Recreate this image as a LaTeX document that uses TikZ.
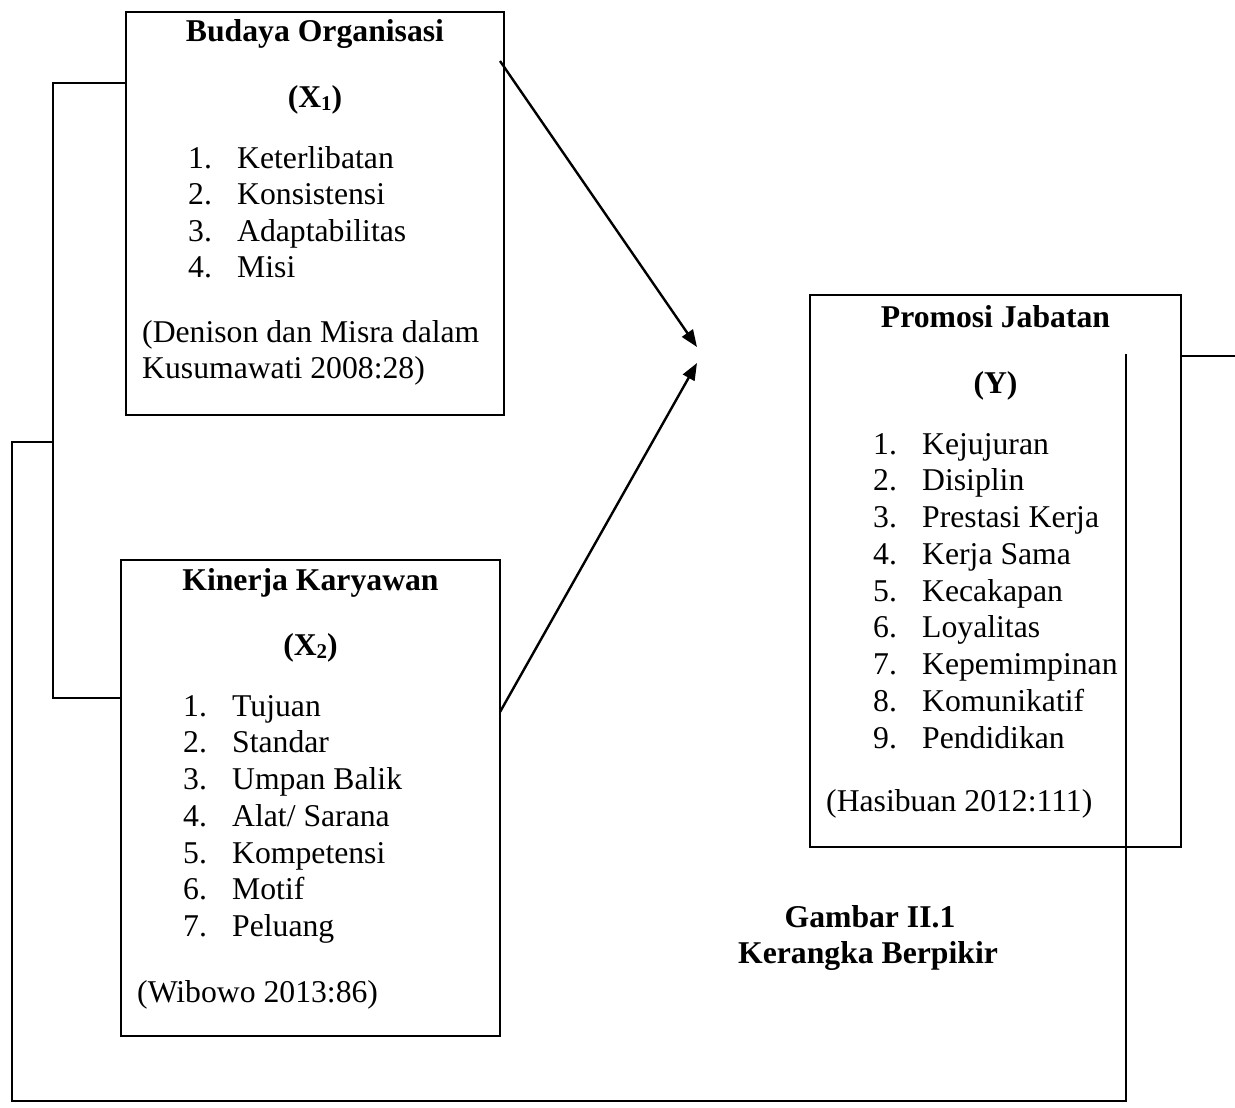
\documentclass[tikz,border=0pt]{standalone}
\usepackage{fontspec}
\setmainfont{Liberation Serif}
\usetikzlibrary{arrows.meta}
\newcommand{\lowsub}[1]{\raisebox{-3pt}{\fontsize{21}{21}\selectfont #1}}
\begin{document}
\begin{tikzpicture}[x=1pt,y=-1pt,
  box/.style={draw,line width=2.2pt,inner sep=0pt},
  conn/.style={line width=2pt},
  arr/.style={line width=2.4pt,-{Triangle[length=17pt,width=13pt]}},
  txt/.style={inner sep=0pt,anchor=base west,font=\fontsize{31.7}{36.7}\selectfont},
  ttl/.style={inner sep=0pt,anchor=base,font=\fontsize{31.7}{36.7}\selectfont\bfseries}]
\useasboundingbox (0,0) rectangle (1235,1108);

% boxes
\node[box,minimum width=378pt,minimum height=403pt] (b1) at (315,213.5) {};
\node[box,minimum width=379pt,minimum height=476pt] (b2) at (310.5,798) {};
\node[box,minimum width=371pt,minimum height=552pt] (b3) at (995.5,571) {};

% box 1 text
\node[ttl] (b1t) at (315,42) {Budaya Organisasi};
\node[ttl] (b1x) at (315,107) {(X\lowsub{1})};
\foreach \t [count=\i] in {Keterlibatan,Konsistensi,Adaptabilitas,Misi}
  \node[txt] (b1i\i) at (188,{168+36.6*(\i-1)}) {\makebox[49pt][l]{\i.}\t};
\node[txt] (b1s1) at (142,342) {(Denison dan Misra dalam};
\node[txt] (b1s2) at (142,378) {Kusumawati 2008:28)};

% box 2 text
\node[ttl] (b2t) at (310.5,590) {Kinerja Karyawan};
\node[ttl] (b2x) at (310.5,655) {(X\lowsub{2})};
\foreach \t [count=\i] in {Tujuan,Standar,Umpan Balik,Alat/ Sarana,Kompetensi,Motif,Peluang}
  \node[txt] (b2i\i) at (183,{716+36.75*(\i-1)}) {\makebox[49pt][l]{\i.}\t};
\node[txt] (b2s) at (137,1002) {(Wibowo 2013:86)};

% box 3 text
\node[ttl] (b3t) at (995.5,327) {Promosi Jabatan};
\node[ttl] (b3x) at (995.5,393) {(Y)};
\foreach \t [count=\i] in {Kejujuran,Disiplin,Prestasi Kerja,Kerja Sama,Kecakapan,Loyalitas,Kepemimpinan,Komunikatif,Pendidikan}
  \node[txt] (b3i\i) at (873,{454+36.75*(\i-1)}) {\makebox[49pt][l]{\i.}\t};
\node[txt] (b3s) at (826,811) {(Hasibuan 2012:111)};

% caption
\node[ttl] (cap1) at (870,927) {Gambar II.1};
\node[ttl] (cap2) at (868,963) {Kerangka Berpikir};

% coordinates
\coordinate (a1s) at (500,61);
\coordinate (a2s) at (500,712);
\coordinate (t1) at (697,347);
\coordinate (t2) at (697,363);
\coordinate (jl) at (53,442);
\coordinate (rtop) at (1126,354);
\coordinate (rend) at (1235,356);

% arrows
\draw[arr] (a1s) -- (t1);
\draw[arr] (a2s) -- (t2);

% left bracket
\draw[conn] (b1.west |- 0,83) -- (53,83) -- (53,698) -- (b2.west |- 0,698);
% outer loop
\draw[conn] (jl) -- (12,442) -- (12,1101) -- (1126,1101) -- (rtop);
\draw[conn] (b3.east |- rend) -- (rend);
\end{tikzpicture}
\end{document}
